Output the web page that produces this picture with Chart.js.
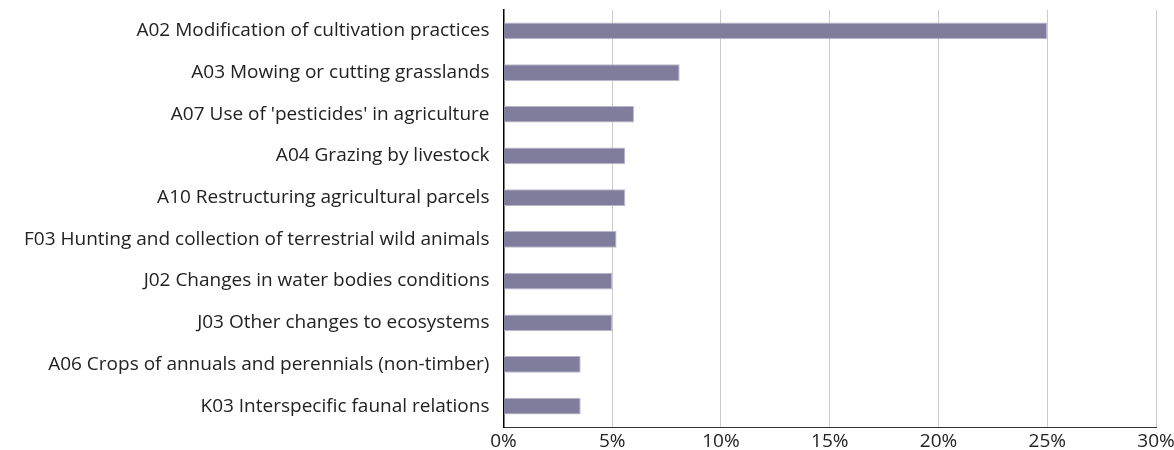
<!DOCTYPE html>
<html>
<head>
<meta charset="utf-8">
<script src="https://cdn.jsdelivr.net/npm/chart.js@4"></script>
<style>
html,body{margin:0;padding:0;background:#fff;}
#wrap{width:1174px;height:450px;position:relative;}
</style>
</head>
<body>
<div id="wrap"><canvas id="c"></canvas></div>
<script>
const categories = [
  "A02 Modification of cultivation practices",
  "A03 Mowing or cutting grasslands",
  "A07 Use of 'pesticides' in agriculture",
  "A04 Grazing by livestock",
  "A10 Restructuring agricultural parcels",
  "F03 Hunting and collection of terrestrial wild animals",
  "J02 Changes in water bodies conditions",
  "J03 Other changes to ecosystems",
  "A06 Crops of annuals and perennials (non-timber)",
  "K03 Interspecific faunal relations"
];
const values = [25.0, 8.1, 6.0, 5.6, 5.6, 5.2, 5.0, 5.0, 3.55, 3.55];
const xTicks = [0, 5, 10, 15, 20, 25, 30];

new Chart(document.getElementById('c'), {
  type: 'bar',
  data: {
    labels: categories,
    datasets: [{
      data: values,
      backgroundColor: '#807c9c',
      borderColor: '#b9b6cc',
      borderWidth: { top: 1, bottom: 1, right: 1, left: 0 },
      borderSkipped: false,
      barPercentage: 0.4,
      categoryPercentage: 1.0
    }]
  },
  options: {
    indexAxis: 'y',
    responsive: true,
    maintainAspectRatio: false,
    animation: false,
    layout: { padding: { top: 10, right: 0, left: 10, bottom: 0 } },
    plugins: { legend: { display: false }, tooltip: { enabled: false } },
    scales: {
      x: {
        min: 0, max: 30,
        afterBuildTicks: (s) => { s.ticks = xTicks.map(v => ({ value: v })); },
        afterFit: (s) => { s.height = 23; s.paddingRight = 18; },
        ticks: {
          callback: (v) => v + '%',
          color: '#222',
          font: { family: 'Open Sans', size: 19 },
          padding: 3
        },
        grid: { color: '#cccccc', lineWidth: 1, drawTicks: false },
        border: { display: true, color: '#333333', width: 1 }
      },
      y: {
        afterFit: (s) => { s.paddingTop = 0; s.paddingBottom = 0; },
        ticks: {
          color: '#222',
          font: { family: 'Open Sans', size: 19 },
          padding: 14
        },
        grid: { display: false, drawTicks: false },
        border: { display: true, color: '#000000', width: 1.5 }
      }
    }
  }
});
</script>
</body>
</html>
